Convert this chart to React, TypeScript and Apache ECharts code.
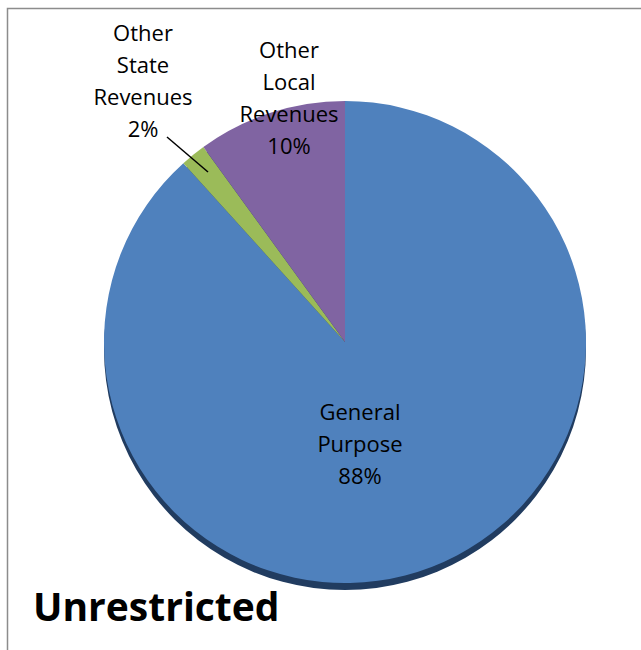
import React, { useEffect, useRef } from "react";
import * as echarts from "echarts";

const categories = ["General Purpose", "Other State Revenues", "Other Local Revenues"];
const values = [88.3, 1.7, 10.0];
const colors = ["#4f81bd", "#9bbb59", "#8064a2"];
const titleText = "Unrestricted";

const labelPos: Record<number, { x: number; y: number }> = {
  0: { x: 360, y: 443 },
  1: { x: 143, y: 80 },
  2: { x: 289, y: 97 },
};

export default function App() {
  const ref = useRef<HTMLDivElement>(null);
  useEffect(() => {
    if (!ref.current) return;
    const chart = echarts.init(ref.current, null, { renderer: "svg" });
    const font = "'Open Sans', 'Noto Sans', sans-serif";
    chart.setOption({
      animation: false,
      backgroundColor: "#ffffff",
      graphic: [
        {
          type: "rect",
          shape: { x: 7.5, y: 8.5, width: 700, height: 700 },
          style: { fill: "none", stroke: "#8c8c8c", lineWidth: 1.5 },
          z: 0,
        },
        {
          type: "line",
          shape: { x1: 167, y1: 137, x2: 208, y2: 172 },
          style: { stroke: "#000000", lineWidth: 1.5 },
          z: 10,
        },
        {
          type: "text",
          x: 33,
          y: 605,
          style: {
            text: titleText,
            font: `bold 39px ${font}`,
            fill: "#000000",
            verticalAlign: "middle",
            align: "left",
          },
          z: 10,
        },
      ],
      series: [
        {
          type: "pie",
          silent: true,
          center: [345, 349],
          radius: 241,
          startAngle: 90,
          label: { show: false },
          labelLine: { show: false },
          itemStyle: { color: "#213c60" },
          data: [{ name: "shadow", value: values.reduce((a, b) => a + b, 0) }],
          z: 1,
        },
        {
          type: "pie",
          center: [345, 342],
          radius: 241,
          startAngle: 90,
          clockwise: true,
          percentPrecision: 0,
          z: 2,
          label: {
            show: true,
            position: "inside",
            color: "#000000",
            fontFamily: font,
            fontSize: 22,
            lineHeight: 32,
            align: "center",
            formatter: (p: any) => p.name.split(" ").join("\n") + "\n" + p.percent + "%",
          },
          labelLine: { show: false },
          labelLayout: (params: any) => {
            const pos = labelPos[params.dataIndex];
            return {
              x: pos.x,
              y: pos.y,
              align: "center",
              verticalAlign: "middle",
            };
          },
          data: categories.map((c, i) => ({
            name: c,
            value: values[i],
            itemStyle: { color: colors[i] },
          })),
        },
      ],
    });
    return () => chart.dispose();
  }, []);
  return (
    <div
      ref={ref}
      style={{ position: "fixed", left: 0, top: 0, width: 641, height: 650 }}
    />
  );
}
